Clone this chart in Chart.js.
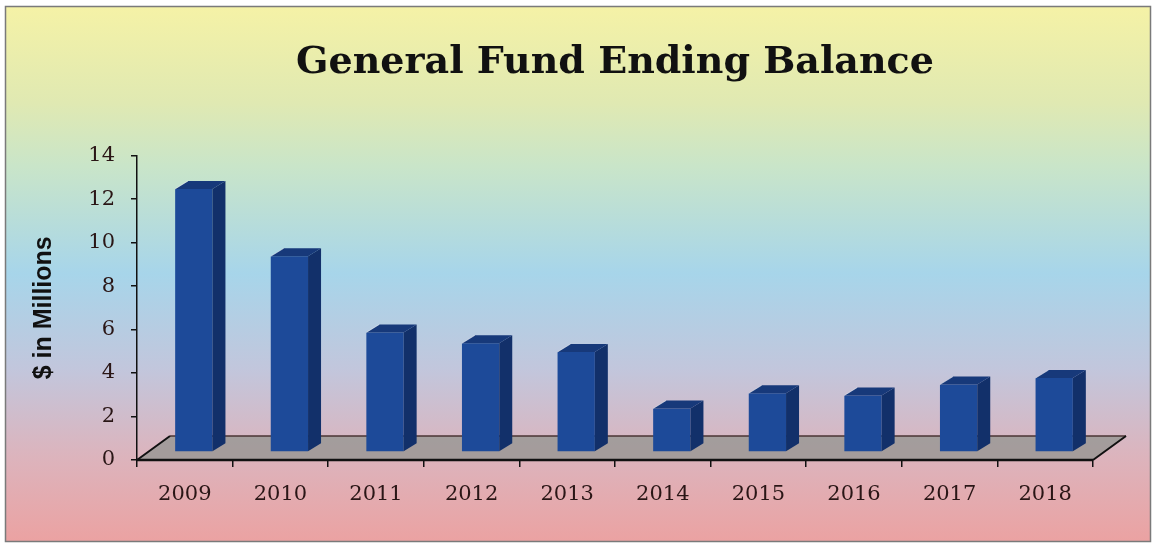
<!DOCTYPE html>
<html>
<head>
<meta charset="utf-8">
<script src="https://cdn.jsdelivr.net/npm/chart.js@4"></script>
<style>
  html, body { margin: 0; padding: 0; background: #fff; }
  #wrap { width: 1156px; height: 548px; }
</style>
</head>
<body>
<div id="wrap"><canvas id="chart" width="1156" height="548"></canvas></div>
<script>
// data
const categories = ['2009', '2010', '2011', '2012', '2013', '2014', '2015', '2016', '2017', '2018'];
const balances = [12.1, 9.0, 5.5, 5.0, 4.6, 2.0, 2.7, 2.6, 3.1, 3.4];
const yMin = 0;
const yMax = 14;
const yStep = 2;

// 3d look: floor depth and bar depth
const floorDepth = { dx: 33, dy: -24 };
const barShift = { dx: 9, dy: -8 };
const barDepth = { dx: 13, dy: -8 };

const backdrop = {
    id: 'backdrop',
    beforeDraw(chart) {
        const ctx = chart.ctx;
        const g = ctx.createLinearGradient(0, 6, 0, 541);
        g.addColorStop(0.0, '#f5f2a6');
        g.addColorStop(0.18, '#e0e9b2');
        g.addColorStop(0.30, '#c9e5c9');
        g.addColorStop(0.50, '#a7d5ea');
        g.addColorStop(0.68, '#c2c6dc');
        g.addColorStop(0.84, '#dcb4bd');
        g.addColorStop(1.0, '#eba2a2');
        ctx.save();
        ctx.fillStyle = '#ffffff';
        ctx.fillRect(0, 0, chart.width, chart.height);
        ctx.fillStyle = g;
        ctx.fillRect(6, 7, 1144, 534);
        ctx.strokeStyle = '#7a7a7a';
        ctx.lineWidth = 1.5;
        ctx.strokeRect(5.5, 6.5, 1145, 535);
        ctx.restore();
    }
};

const bars3d = {
    id: 'bars3d',
    beforeDatasetsDraw(chart) {
        const ctx = chart.ctx;
        const a = chart.chartArea;
        const y0 = chart.scales.y.getPixelForValue(0);
        // grey floor
        ctx.save();
        ctx.beginPath();
        ctx.moveTo(a.left, y0);
        ctx.lineTo(a.right, y0);
        ctx.lineTo(a.right + floorDepth.dx, y0 + floorDepth.dy);
        ctx.lineTo(a.left + floorDepth.dx, y0 + floorDepth.dy);
        ctx.closePath();
        ctx.fillStyle = 'rgba(150,150,146,0.8)';
        ctx.fill();
        ctx.strokeStyle = '#4a3434';
        ctx.lineWidth = 1.5;
        ctx.beginPath();
        ctx.moveTo(a.left + floorDepth.dx, y0 + floorDepth.dy);
        ctx.lineTo(a.right + floorDepth.dx, y0 + floorDepth.dy);
        ctx.stroke();
        ctx.strokeStyle = '#111';
        ctx.lineWidth = 2;
        ctx.beginPath();
        ctx.moveTo(a.left + floorDepth.dx, y0 + floorDepth.dy);
        ctx.lineTo(a.left, y0);
        ctx.moveTo(a.right, y0);
        ctx.lineTo(a.right + floorDepth.dx, y0 + floorDepth.dy);
        ctx.stroke();
        ctx.restore();
        ctx.save();
        ctx.translate(barShift.dx, barShift.dy);
    },
    afterDatasetsDraw(chart) {
        const ctx = chart.ctx;
        const meta = chart.getDatasetMeta(0);
        meta.data.forEach(bar => {
            const p = bar.getProps(['x', 'y', 'base', 'width'], true);
            const l = p.x - p.width / 2, r = p.x + p.width / 2;
            // side face
            ctx.beginPath();
            ctx.moveTo(r, p.y);
            ctx.lineTo(r + barDepth.dx, p.y + barDepth.dy);
            ctx.lineTo(r + barDepth.dx, p.base + barDepth.dy);
            ctx.lineTo(r, p.base);
            ctx.closePath();
            ctx.fillStyle = '#12306a';
            ctx.fill();
            // top face
            ctx.beginPath();
            ctx.moveTo(l, p.y);
            ctx.lineTo(l + barDepth.dx, p.y + barDepth.dy);
            ctx.lineTo(r + barDepth.dx, p.y + barDepth.dy);
            ctx.lineTo(r, p.y);
            ctx.closePath();
            ctx.fillStyle = '#17397a';
            ctx.fill();
            ctx.strokeStyle = 'rgba(255,255,255,0.5)';
            ctx.lineWidth = 1;
            ctx.beginPath();
            ctx.moveTo(l, p.y);
            ctx.lineTo(l + barDepth.dx, p.y + barDepth.dy);
            ctx.stroke();
        });
        ctx.restore();
        // thick front edge of the floor
        const a = chart.chartArea;
        const y0 = chart.scales.y.getPixelForValue(0);
        ctx.save();
        ctx.strokeStyle = '#111';
        ctx.lineWidth = 2.5;
        ctx.beginPath();
        ctx.moveTo(a.left, y0);
        ctx.lineTo(a.right, y0);
        ctx.stroke();
        ctx.restore();
    }
};

new Chart(document.getElementById('chart'), {
    type: 'bar',
    data: {
        labels: categories,
        datasets: [{
            label: 'General Fund Ending Balance',
            data: balances,
            backgroundColor: '#1d4a99',
            borderWidth: 0,
            barPercentage: 0.39,
            categoryPercentage: 1.0
        }]
    },
    options: {
        responsive: false,
        animation: false,
        layout: { padding: { top: 6, left: 20, right: 63, bottom: 8 } },
        plugins: {
            legend: { display: false },
            tooltip: { enabled: false },
            title: {
                display: true,
                fullSize: false,
                text: 'General Fund Ending Balance',
                color: '#111',
                font: { family: 'DejaVu Serif', size: 38, weight: 'bold' },
                padding: { top: 34, bottom: 70 }
            }
        },
        scales: {
            x: {
                grid: { display: true, drawOnChartArea: false, tickLength: 7, color: '#111', lineWidth: 1.5, offset: true },
                border: { display: false },
                ticks: {
                    color: '#2a1616',
                    font: { family: 'DejaVu Serif', size: 21 },
                    padding: 15
                },
                afterFit(scale) { scale.height = 80; }
            },
            y: {
                min: yMin,
                max: yMax,
                grid: { display: true, drawOnChartArea: false, tickLength: 6, color: '#111', lineWidth: 1.5 },
                border: { display: true, color: '#111', width: 1.5 },
                ticks: {
                    stepSize: yStep,
                    color: '#2a1616',
                    font: { family: 'DejaVu Serif', size: 21 },
                    padding: 16
                },
                title: {
                    display: true,
                    text: '$ in Millions',
                    color: '#111',
                    font: { family: 'Liberation Sans', size: 25, weight: 'bold' },
                    padding: { top: 9, bottom: 0 }
                },
                afterFit(scale) { scale.width = 117; }
            }
        }
    },
    plugins: [backdrop, bars3d]
});
</script>
</body>
</html>
